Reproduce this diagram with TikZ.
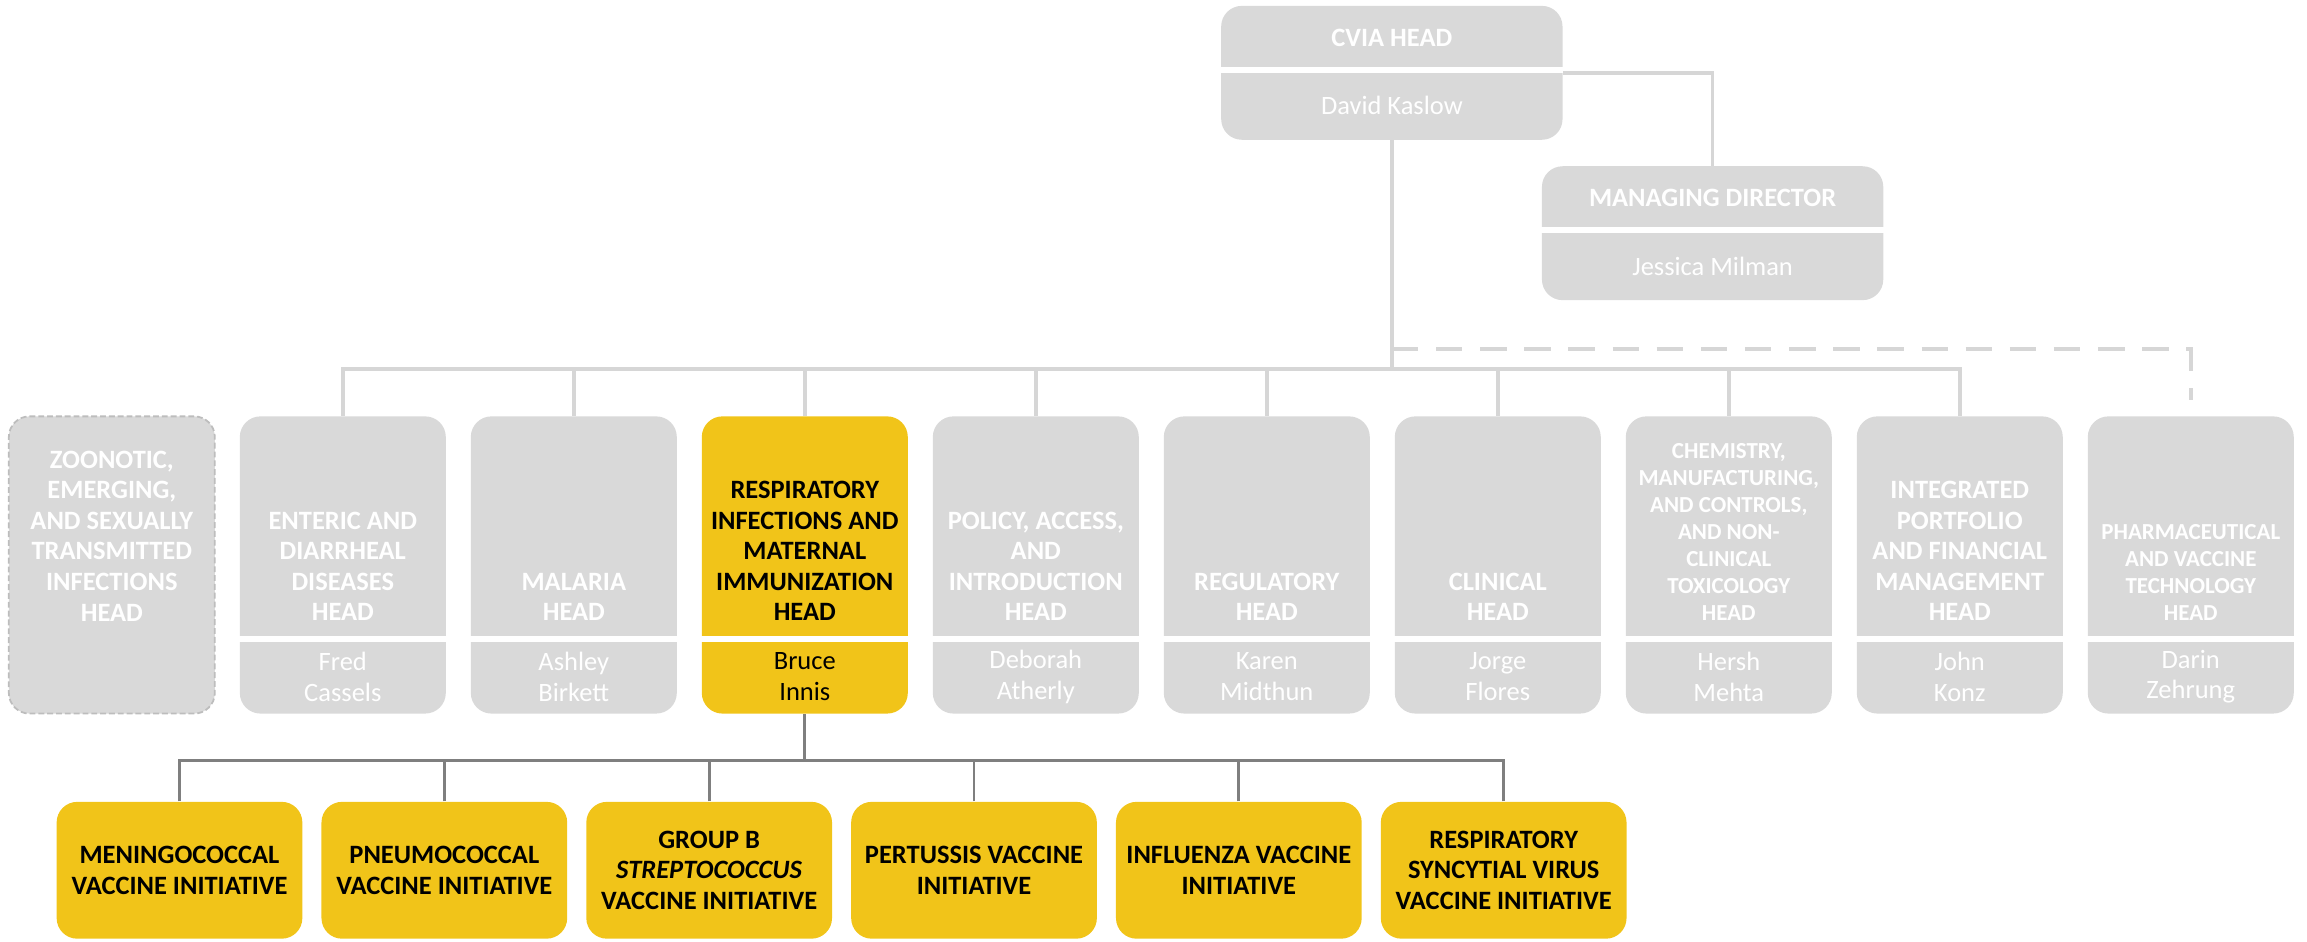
\documentclass[tikz,border=0pt]{standalone}
\usepackage{fontspec}
\setmainfont{Carlito}
\usetikzlibrary{calc,positioning}
\definecolor{boxgray}{HTML}{D9D9D9}
\definecolor{linegray}{HTML}{D6D6D6}
\definecolor{edgegray}{HTML}{BDBDBD}
\definecolor{bargray}{HTML}{7F7F7F}
\definecolor{gold}{HTML}{F1C419}
\tikzstyle{lead} = [rectangle, rounded corners=7pt, fill=boxgray,
    minimum width=116pt, minimum height=45.5pt, inner sep=0pt]
\tikzstyle{unit} = [rectangle, rounded corners=7pt, fill=boxgray,
    minimum width=70pt, minimum height=101pt, inner sep=0pt]
\tikzstyle{task} = [rectangle, rounded corners=7pt, fill=gold, align=center,
    minimum width=83.5pt, minimum height=46.5pt, inner sep=0pt,
    font=\bfseries\fontsize{9}{10.4}\selectfont]
\tikzstyle{ttl} = [anchor=south, inner sep=0pt, align=center, text=white,
    font=\bfseries\fontsize{9}{10.4}\selectfont]
\tikzstyle{small} = [font=\bfseries\fontsize{7.8}{9.2}\selectfont]
\tikzstyle{who} = [inner sep=0pt, align=center, text=white,
    font=\fontsize{9}{10.5}\selectfont]
\tikzstyle{divider} = [draw=white, line width=2pt]
\tikzstyle{line} = [draw=linegray, line width=1.25pt]
\tikzstyle{bar} = [draw=bargray, line width=1pt]

\begin{document}
\begin{tikzpicture}[x=1pt,y=-1pt,node distance=78.5pt]
    \useasboundingbox (0,0) rectangle (784,320);
    % Place nodes
    \node[lead] (cvia) at (473,24.75) {};
    \node[ttl, anchor=center] (cviaT) at ($(cvia.north)+(0,11)$) {CVIA HEAD};
    \node[who] (cviaN) at ($(cvia.south)+(0,-11.75)$) {David Kaslow};
    \node[lead] (md) at (582,79.25) {};
    \node[ttl, anchor=center] (mdT) at ($(md.north)+(0,11)$) {MANAGING DIRECTOR};
    \node[who] (mdN) at ($(md.south)+(0,-11.75)$) {Jessica Milman};

    \node[unit, draw=edgegray, line width=0.6pt, dash pattern=on 2pt off 1pt] (zoo) at (38,192) {};
    \node[unit, right of=zoo] (enteric) {};
    \node[unit, right of=enteric] (malaria) {};
    \node[unit, right of=malaria, fill=gold] (resp) {};
    \node[unit, right of=resp] (policy) {};
    \node[unit, right of=policy] (reg) {};
    \node[unit, right of=reg] (clinical) {};
    \node[unit, right of=clinical] (cmc) {};
    \node[unit, right of=cmc] (ipfm) {};
    \node[unit, right of=ipfm] (pharma) {};

    \foreach \b in {cvia,md}
        \draw[divider] ($(\b.north west)+(0,22)$) -- ($(\b.north east)+(0,22)$);
    \foreach \b in {enteric,malaria,resp,policy,reg,clinical,cmc,ipfm,pharma}
        \draw[divider] ($(\b.south west)+(0,-25.5)$) -- ($(\b.south east)+(0,-25.5)$);

    \node[ttl] (zooT) at ($(zoo.south)+(0,-31.5)$) {ZOONOTIC,\\EMERGING,\\AND SEXUALLY\\TRANSMITTED\\INFECTIONS\\HEAD};
    \node[ttl] (entericT) at ($(enteric.south)+(0,-31.5)$) {ENTERIC AND\\DIARRHEAL\\DISEASES\\HEAD};
    \node[ttl] (malariaT) at ($(malaria.south)+(0,-31.5)$) {MALARIA\\HEAD};
    \node[ttl, text=black] (respT) at ($(resp.south)+(0,-31.5)$) {RESPIRATORY\\INFECTIONS AND\\MATERNAL\\IMMUNIZATION\\HEAD};
    \node[ttl] (policyT) at ($(policy.south)+(0,-31.5)$) {POLICY, ACCESS,\\AND\\INTRODUCTION\\HEAD};
    \node[ttl] (regT) at ($(reg.south)+(0,-31.5)$) {REGULATORY\\HEAD};
    \node[ttl] (clinicalT) at ($(clinical.south)+(0,-31.5)$) {CLINICAL\\HEAD};
    \node[ttl, small] (cmcT) at ($(cmc.south)+(0,-31.5)$) {CHEMISTRY,\\MANUFACTURING,\\AND CONTROLS,\\AND NON-\\CLINICAL\\TOXICOLOGY\\HEAD};
    \node[ttl] (ipfmT) at ($(ipfm.south)+(0,-31.5)$) {INTEGRATED\\PORTFOLIO\\AND FINANCIAL\\MANAGEMENT\\HEAD};
    \node[ttl, small] (pharmaT) at ($(pharma.south)+(0,-31.5)$) {PHARMACEUTICAL\\AND VACCINE\\TECHNOLOGY\\HEAD};

    \node[who] (entericN) at ($(enteric.south)+(0,-12.75)$) {Fred\\Cassels};
    \node[who] (malariaN) at ($(malaria.south)+(0,-12.75)$) {Ashley\\Birkett};
    \node[who, text=black] (respN) at ($(resp.south)+(0,-12.75)$) {Bruce\\Innis};
    \node[who] (policyN) at ($(policy.south)+(0,-12.75)$) {Deborah\\Atherly};
    \node[who] (regN) at ($(reg.south)+(0,-12.75)$) {Karen\\Midthun};
    \node[who] (clinicalN) at ($(clinical.south)+(0,-12.75)$) {Jorge\\Flores};
    \node[who] (cmcN) at ($(cmc.south)+(0,-12.75)$) {Hersh\\Mehta};
    \node[who] (ipfmN) at ($(ipfm.south)+(0,-12.75)$) {John\\Konz};
    \node[who] (pharmaN) at ($(pharma.south)+(0,-12.75)$) {Darin\\Zehrung};

    \node[task] (mening) at (61,295.75) {MENINGOCOCCAL\\VACCINE INITIATIVE};
    \node[task, right of=mening, node distance=90pt] (pneumo) {PNEUMOCOCCAL\\VACCINE INITIATIVE};
    \node[task, right of=pneumo, node distance=90pt] (gbs) {GROUP B\\\textit{STREPTOCOCCUS}\\VACCINE INITIATIVE};
    \node[task, right of=gbs, node distance=90pt] (pertussis) {PERTUSSIS VACCINE\\INITIATIVE};
    \node[task, right of=pertussis, node distance=90pt] (flu) {INFLUENZA VACCINE\\INITIATIVE};
    \node[task, right of=flu, node distance=90pt] (rsv) {RESPIRATORY\\SYNCYTIAL VIRUS\\VACCINE INITIATIVE};

    % Draw edges
    \coordinate (cviaR) at ($(cvia.north east)+(0,23)$);
    \coordinate (hub) at (473,125.5);
    \coordinate (dash) at (473,118.5);
    \coordinate (pharmaTop) at ($(pharma.north)+(0,-5.5)$);
    \coordinate (sub) at (273.5,258.5);
    \path [line] (cviaR) -| (md.north);
    \path [line] (cvia.south) -- (hub);
    \foreach \b in {enteric,malaria,resp,policy,reg,clinical,cmc,ipfm}
        \path [line] (\b.north) |- (hub);
    \path [line, dash pattern=on 9pt off 6pt] (dash) -| (pharmaTop);
    \path [bar] (resp.south) -- (sub);
    \foreach \b in {mening,pneumo,gbs,pertussis,flu,rsv}
        \path [bar] (\b.north) |- (sub);
\end{tikzpicture}
\end{document}
